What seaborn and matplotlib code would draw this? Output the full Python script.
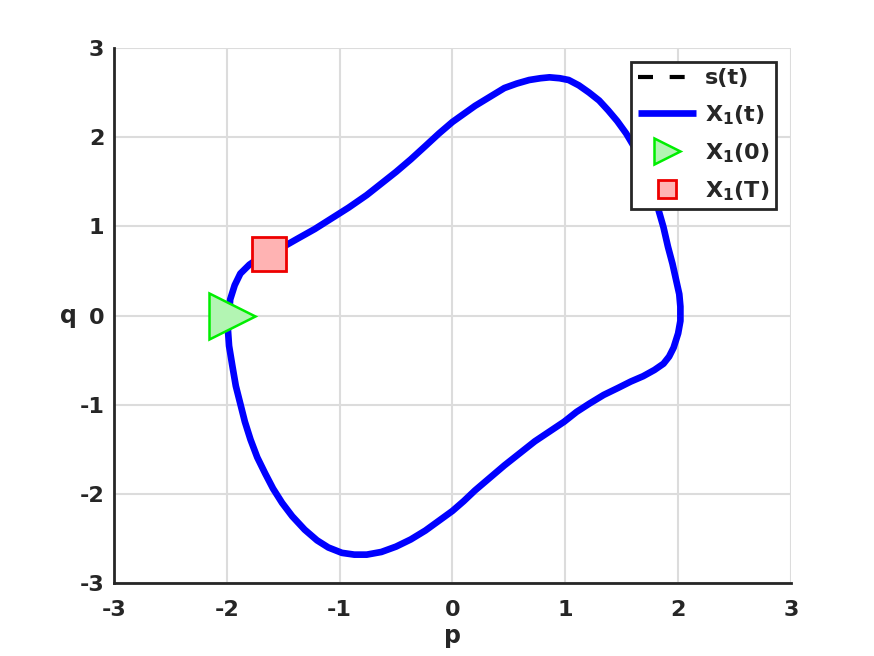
import numpy as np
import pandas as pd
import matplotlib
matplotlib.use("Agg")
import matplotlib.pyplot as plt
import seaborn as sns

# orbit (p, q)
p = [-1.98, -1.97, -1.93, -1.88, -1.80, -1.72, -1.63, -1.50, -1.375, -1.22, -1.07, -0.92,
     -0.76, -0.63, -0.50, -0.37, -0.24, -0.12, 0.0, 0.10, 0.20, 0.33, 0.46, 0.57,
     0.68, 0.78, 0.86, 0.95, 1.03, 1.12, 1.21, 1.30, 1.38, 1.46, 1.54, 1.62, 1.69,
     1.76, 1.82, 1.87, 1.91, 1.95, 1.98, 2.01, 2.02, 2.02, 2.00, 1.96, 1.92, 1.87,
     1.79, 1.69, 1.58, 1.47, 1.34, 1.21, 1.10, 0.99, 0.86, 0.73, 0.60, 0.46,
     0.33, 0.20, 0.10, 0.0, -0.12, -0.24, -0.37, -0.50, -0.63, -0.76, -0.87, -0.98,
     -1.10, -1.20, -1.31, -1.42, -1.51, -1.59, -1.66, -1.73, -1.79, -1.84, -1.88,
     -1.92, -1.95, -1.98, -1.99, -1.98]
q = [0.00, 0.18, 0.34, 0.47, 0.57, 0.64, 0.69, 0.77, 0.86, 0.97, 1.09, 1.21,
     1.35, 1.48, 1.61, 1.75, 1.90, 2.04, 2.17, 2.26, 2.35, 2.45, 2.55, 2.60,
     2.64, 2.66, 2.67, 2.66, 2.64, 2.58, 2.50, 2.41, 2.30, 2.18, 2.04, 1.87, 1.70,
     1.46, 1.21, 0.99, 0.77, 0.58, 0.41, 0.24, 0.10, -0.06, -0.20, -0.36, -0.46, -0.54,
     -0.61, -0.68, -0.74, -0.81, -0.89, -0.99, -1.08, -1.19, -1.30, -1.41, -1.54, -1.68,
     -1.82, -1.96, -2.08, -2.19, -2.30, -2.41, -2.51, -2.59, -2.65, -2.68, -2.68, -2.66,
     -2.60, -2.52, -2.40, -2.25, -2.10, -1.94, -1.77, -1.59, -1.39, -1.19, -0.99,
     -0.79, -0.57, -0.34, -0.16, 0.00]

start_pt = (-1.95, 0.0)
end_pt = (-1.63, 0.69)

ticks = [-3, -2, -1, 0, 1, 2, 3]

df = pd.DataFrame({"p": p, "q": q})

sns.set_style("white")
plt.rcParams["font.family"] = ["DejaVu Sans"]
plt.rcParams["font.weight"] = "bold"
plt.rcParams["mathtext.fontset"] = "dejavusans"
plt.rcParams["mathtext.default"] = "bf"

fig = plt.figure(figsize=(8.74, 6.56), dpi=100)
ax = fig.add_axes([0.1304, 0.111, 0.7746, 0.816])

# s(t) dashed, sits under the thick trajectory
sns.lineplot(data=df, x="p", y="q", sort=False, estimator=None, ax=ax,
             color="black", linewidth=3, dashes=False, label="s(t)")
ax.lines[-1].set_dashes((3.6, 4))
ax.lines[-1].set_dash_capstyle("butt")
sns.lineplot(data=df, x="p", y="q", sort=False, estimator=None, ax=ax,
             color="#0000ff", linewidth=4.8, label="X$_1$(t)")
ax.lines[-1].set_solid_capstyle("butt")
ax.plot(start_pt[0], start_pt[1], marker=">", markersize=33, color="#00ee00",
        markerfacecolor="#b3f5b3", markeredgewidth=1.8, linestyle="none", label="X$_1$(0)")
ax.plot(end_pt[0], end_pt[1], marker="s", markersize=24, color="#ee0000",
        markerfacecolor="#ffb3b3", markeredgewidth=2, linestyle="none", label="X$_1$(T)")

ax.set_xlim(-3, 3)
ax.set_ylim(-3, 3)
ax.set_xticks(ticks)
ax.set_yticks(ticks)
ax.set_xticklabels([str(t) for t in ticks], fontsize=16, fontweight="bold", color="#262626")
ax.set_yticklabels([str(t) for t in ticks], fontsize=16, fontweight="bold", color="#262626")
ax.grid(True, color="#dcdcdc", linewidth=1.5)
ax.set_axisbelow(True)
for side in ["top", "right"]:
    ax.spines[side].set_visible(False)
for side in ["left", "bottom"]:
    ax.spines[side].set_color("#262626")
    ax.spines[side].set_linewidth(2)
ax.tick_params(direction="in", length=7, width=2, color="#262626")
ax.tick_params(axis="x", pad=12)
ax.tick_params(axis="y", pad=7)

ax.set_xlabel("p", fontsize=17, fontweight="bold", color="#262626", labelpad=3)
ax.set_ylabel("q", fontsize=17, fontweight="bold", color="#262626", rotation=0,
              labelpad=8, va="center")

leg = ax.legend(loc="upper right", bbox_to_anchor=(0.978, 0.974), fontsize=16,
                markerscale=0.55, frameon=True, fancybox=False, framealpha=1,
                handlelength=2.6, borderpad=0.3, labelspacing=0.65, handletextpad=0.4,
                borderaxespad=0)
leg.get_frame().set_edgecolor("#262626")
leg.get_frame().set_linewidth(2)
for t in leg.get_texts():
    t.set_fontweight("bold")

fig.savefig("out.png", dpi=100)
